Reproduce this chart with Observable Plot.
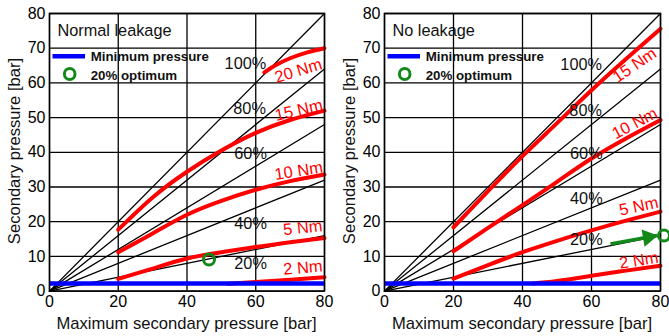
<!DOCTYPE html>
<html><head><meta charset="utf-8">
<script src="https://cdn.jsdelivr.net/npm/d3@7"></script>
<script src="https://cdn.jsdelivr.net/npm/@observablehq/plot@0.6"></script>
<style>
body{margin:0;background:#fff;}
#wrap{display:flex;width:669px;height:336px;overflow:hidden;}
.panel{position:relative;}
.panel svg.overlay{position:absolute;left:0;top:0;pointer-events:none;}
</style></head><body><div id="wrap"></div>
<script>
// ---------- shared ----------
const xTicks = [0, 20, 40, 60, 80];
const yTicks = [0, 10, 20, 30, 40, 50, 60, 70, 80];
const percentLevels = [20, 40, 60, 80, 100];
const percentLabels = ["20%", "40%", "60%", "80%", "100%"];
const minimumPressure = 2.2;
const xLabel = "Maximum secondary pressure [bar]";
const yLabel = "Secondary pressure [bar]";
const legendLine = "Minimum pressure";
const legendDot = "20% optimum";

// ---------- Normal leakage ----------
const normalTitle = "Normal leakage";
const normalX = [20, 30, 40, 50, 60, 70, 80];
const normal5Nm = [3.5, 6.5, 9.4, 11.2, 12.7, 14.1, 15.3];
const normal10Nm = [11.2, 16.6, 22.0, 26.0, 29.2, 31.7, 33.6];
const normal15Nm = [17.7, 27.0, 34.4, 40.5, 45.6, 49.3, 52.0];
const normal2NmX = [52, 60, 70, 80];
const normal2Nm = [2.1, 2.6, 3.3, 4.0];
const normal20NmX = [62.5, 66, 70, 75, 80];
const normal20Nm = [63.0, 65.2, 67.1, 68.8, 70.0];
const normalOptimumX = [46.4];
const normalOptimumY = [9.1];
const normalPctLabelX = [58.5, 58.5, 58.5, 58.2, 57.0];
const normalPctLabelY = [8.0, 19.4, 39.6, 52.6, 65.6];
const normalTorqueLabels = ["20 Nm", "15 Nm", "10 Nm", "5 Nm", "2 Nm"];
const normalTorqueLabelX = [72.4, 72.5, 72.5, 73.7, 73.7];
const normalTorqueLabelY = [63.5, 52.1, 34.6, 18.2, 6.7];
const normalTorqueLabelAngle = [-17, -13, -9, -6, -5];

// ---------- No leakage ----------
const noLeakTitle = "No leakage";
const noLeakX = [20, 30, 40, 50, 60, 70, 80];
const noLeak5Nm = [3.6, 7.5, 11.2, 14.5, 17.5, 20.3, 22.9];
const noLeak10Nm = [11.5, 18.2, 24.8, 31.5, 38.2, 44.0, 49.3];
const noLeak15Nm = [18.4, 28.8, 38.9, 48.4, 57.9, 66.9, 75.6];
const noLeak2NmX = [43, 50, 60, 70, 80];
const noLeak2Nm = [2.2, 2.9, 4.4, 5.9, 7.3];
const noLeakArrowX = [65.5, 79];
const noLeakArrowY = [13.6, 16.0];
const noLeakOptimumX = [81];
const noLeakOptimumY = [16];
const noLeakPctLabelX = [58.5, 58.5, 58.5, 58.3, 57.0];
const noLeakPctLabelY = [14.8, 26.6, 39.5, 52.1, 65.1];
const noLeakTorqueLabels = ["15 Nm", "10 Nm", "5 Nm", "2 Nm"];
const noLeakTorqueLabelX = [72.5, 72.5, 73.7, 73.7];
const noLeakTorqueLabelY = [65.1, 48.3, 24.4, 8.8];
const noLeakTorqueLabelAngle = [-34, -28, -12, -9];

const RED = "#ff0000", BLUE = "#0000ff", GREEN = "#13891a";
const FONT = "'Liberation Sans', Arial, Helvetica, sans-serif";

function series(xs, ys, name) { return xs.map((x, i) => ({x, y: ys[i], name})); }

function makePanel(cfg) {
  const pctLines = percentLevels.flatMap(p => [{x: 0, y: 0, p}, {x: xTicks[xTicks.length-1], y: xTicks[xTicks.length-1] * p / 100, p}]);
  const pctText = percentLabels.map((t, i) => ({t, x: cfg.pctX[i], y: cfg.pctY[i]}));
  const torqueText = cfg.tLabels.map((t, i) => ({t, x: cfg.tX[i], y: cfg.tY[i], a: cfg.tA[i]}));
  const marks = [
    Plot.gridX(xTicks, {stroke: "black", strokeOpacity: 1, strokeWidth: 1.3}),
    Plot.gridY(yTicks, {stroke: "black", strokeOpacity: 1, strokeWidth: 1.3}),
    Plot.line(pctLines, {x: "x", y: "y", z: "p", stroke: "black", strokeWidth: 1.3}),
    Plot.line(cfg.curves, {x: "x", y: "y", z: "name", stroke: RED, strokeWidth: 4, curve: "natural"}),
    Plot.ruleY([minimumPressure], {stroke: BLUE, strokeWidth: 4.5}),
    Plot.frame({stroke: "black", strokeWidth: 1.5}),
    Plot.axisX(xTicks, {tickSize: 0, tickPadding: 5, fontSize: 16, label: null}),
    Plot.axisY(yTicks, {tickSize: 0, tickPadding: 4, fontSize: 16, label: null}),
    Plot.text(pctText, {x: "x", y: "y", text: "t", fontSize: 16.3, fill: "#111"}),
    Plot.text(torqueText, {x: "x", y: "y", text: "t", rotate: "a", fontSize: 16.5, fill: RED})
  ];
  if (cfg.optX) {
    marks.push(Plot.dot(cfg.optX.map((x, i) => ({x, y: cfg.optY[i]})), {x: "x", y: "y", r: 5.5, stroke: GREEN, strokeWidth: 3, fill: "none"}));
  }
  if (cfg.arrowX) {
    const a = [{x1: cfg.arrowX[0], y1: cfg.arrowY[0], x2: cfg.arrowX[1], y2: cfg.arrowY[1]}];
    marks.push(Plot.link(a, {x1: "x1", y1: "y1", x2: "x2", y2: "y2", stroke: GREEN, strokeWidth: 3.5}));
    marks.push(Plot.dot(a, {x: "x2", y: "y2", symbol: "triangle", r: 6.5, fill: GREEN, stroke: "none", rotate: 80, dx: -9, dy: 1.6}));
  }
  const plot = Plot.plot({
    width: cfg.width, height: 336,
    marginLeft: 49, marginRight: cfg.mr, marginTop: 13, marginBottom: 45.4,
    x: {domain: [0, 80]},
    y: {domain: [0, 80]},
    style: {fontFamily: FONT, fontSize: "16px", color: "black", background: "white", overflow: "visible"},
    marks
  });
  const div = document.createElement("div");
  div.className = "panel";
  div.style.width = cfg.width + "px";
  div.style.height = "336px";
  div.appendChild(plot);
  const plotCenter = (49 + cfg.width - cfg.mr) / 2;
  const ns = "http://www.w3.org/2000/svg";
  const ov = document.createElementNS(ns, "svg");
  ov.setAttribute("class", "overlay");
  ov.setAttribute("width", cfg.width);
  ov.setAttribute("height", 336);
  ov.setAttribute("font-family", FONT);
  ov.innerHTML = `
    <text x="57.5" y="36" font-size="16.3" fill="#111">${cfg.title}</text>
    <line x1="52.5" x2="85" y1="56.3" y2="56.3" stroke="${BLUE}" stroke-width="4.5"/>
    <text x="90.7" y="61.3" font-size="13.3" font-weight="bold" fill="#111">${legendLine}</text>
    <ellipse cx="69.7" cy="74" rx="5.3" ry="5.6" fill="none" stroke="${GREEN}" stroke-width="3"/>
    <text x="90.7" y="79.8" font-size="13.3" font-weight="bold" fill="#111">${legendDot}</text>
    <text x="${plotCenter}" y="328.5" font-size="16.6" text-anchor="middle" fill="#111">${xLabel}</text>
    <text transform="translate(19.5,151) rotate(-90)" font-size="16.6" text-anchor="middle" fill="#111">${yLabel}</text>`;
  div.appendChild(ov);
  return div;
}

const wrap = document.getElementById("wrap");
wrap.appendChild(makePanel({
  width: 335, mr: 11, title: normalTitle,
  curves: [
    ...series(normalX, normal5Nm, "5"), ...series(normalX, normal10Nm, "10"), ...series(normalX, normal15Nm, "15"),
    ...series(normal2NmX, normal2Nm, "2"), ...series(normal20NmX, normal20Nm, "20")
  ],
  pctX: normalPctLabelX, pctY: normalPctLabelY,
  tLabels: normalTorqueLabels, tX: normalTorqueLabelX, tY: normalTorqueLabelY, tA: normalTorqueLabelAngle,
  optX: normalOptimumX, optY: normalOptimumY
}));
wrap.appendChild(makePanel({
  width: 334, mr: 9, title: noLeakTitle,
  curves: [
    ...series(noLeakX, noLeak5Nm, "5"), ...series(noLeakX, noLeak10Nm, "10"), ...series(noLeakX, noLeak15Nm, "15"),
    ...series(noLeak2NmX, noLeak2Nm, "2")
  ],
  pctX: noLeakPctLabelX, pctY: noLeakPctLabelY,
  tLabels: noLeakTorqueLabels, tX: noLeakTorqueLabelX, tY: noLeakTorqueLabelY, tA: noLeakTorqueLabelAngle,
  optX: noLeakOptimumX, optY: noLeakOptimumY,
  arrowX: noLeakArrowX, arrowY: noLeakArrowY
}));
</script></body></html>
